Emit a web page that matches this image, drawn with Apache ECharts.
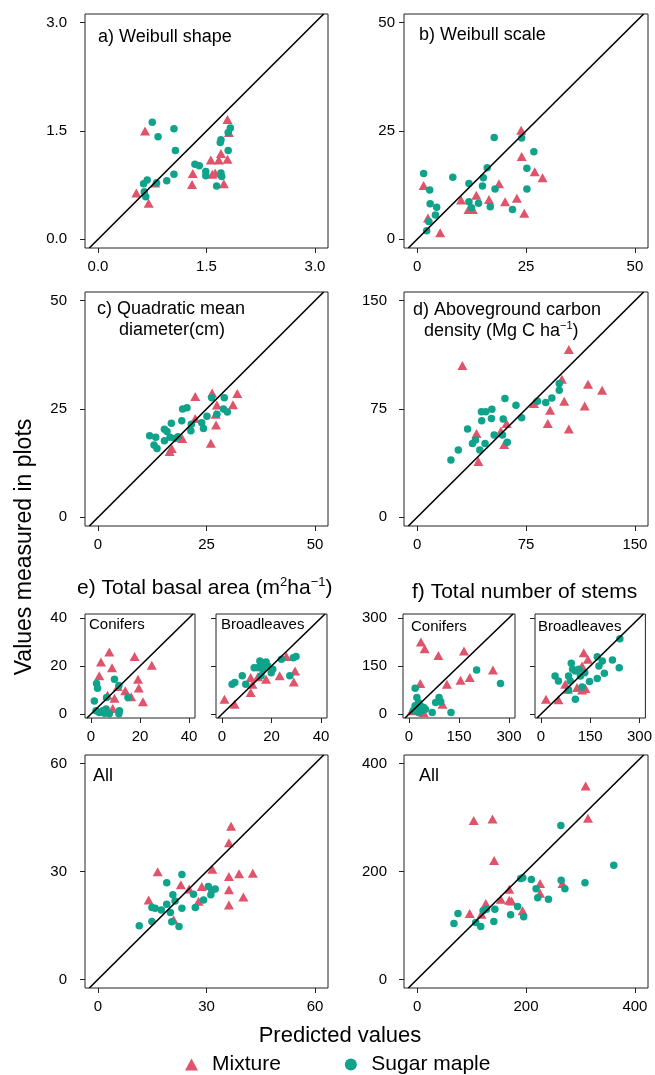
<!DOCTYPE html>
<html>
<head>
<meta charset="utf-8">
<script src="https://cdn.jsdelivr.net/npm/echarts@6/dist/echarts.min.js"></script>
<style>
html, body { margin: 0; padding: 0; background: #fff; }
#main { width: 655px; height: 1075px; }
</style>
</head>
<body>
<div id="main"></div>
<script>
// tick values
var shapeTicks = [0, 1.5, 3];
var scaleTicks = [0, 25, 50];
var qmdTicks = [0, 25, 50];
var carbonTicks = [0, 75, 150];
var baTicks = [0, 20, 40];
var stTicks = [0, 150, 300];
var baAllTicks = [0, 30, 60];
var stAllTicks = [0, 200, 400];

// [predicted, measured]
var shapeMix = [[0.65,1.50],[0.53,0.64],[0.70,0.50],[0.79,0.78],[1.31,0.91],[1.30,0.76],[1.56,1.10],[1.58,0.90],[1.62,0.92],[1.70,1.19],[1.67,1.10],[1.79,1.11],[1.74,0.77],[1.79,1.66],[1.81,1.48]];
var shapeSug = [[0.75,1.62],[1.05,1.53],[0.83,1.42],[1.07,1.23],[0.63,0.77],[0.68,0.82],[0.64,0.66],[0.66,0.59],[0.81,0.78],[0.95,0.81],[1.05,0.90],[1.34,1.04],[1.40,1.02],[1.49,0.94],[1.49,0.88],[1.64,0.74],[1.70,0.92],[1.71,0.87],[1.69,1.34],[1.70,1.38],[1.80,1.23],[1.80,1.48],[1.83,1.54]];

var scaleMix = [[1.5,12.4],[2.5,4.9],[5.3,1.5],[10.1,9.1],[11.8,6.9],[12.8,6.9],[13.6,10.2],[16.5,9.2],[18.8,12.8],[20.2,8.7],[22.9,9.5],[23.9,25.2],[24.0,19.1],[24.6,6.0],[27.0,15.6],[28.8,14.2]];
var scaleSug = [[1.5,15.2],[2.9,11.4],[3.0,8.2],[4.5,7.4],[4.2,5.6],[2.7,4.1],[2.2,2.0],[8.2,14.3],[11.9,12.9],[11.9,8.7],[12.5,7.3],[14.1,8.3],[15.0,12.3],[15.2,14.2],[16.1,16.5],[17.7,23.5],[17.9,11.6],[16.8,7.5],[21.9,6.9],[24.0,23.4],[25.2,16.4],[25.2,11.6],[26.8,20.2]];

var qmdMix = [[16.5,15.2],[17.0,15.9],[19.4,18.2],[22.4,27.9],[22.4,22.8],[26.0,17.1],[26.3,28.7],[27.1,23.8],[27.4,25.9],[27.2,21.3],[31.1,26.0],[32.1,28.6]];
var qmdSug = [[11.9,18.8],[13.3,18.5],[12.9,16.7],[13.6,15.9],[15.3,20.3],[15.9,19.8],[15.3,17.7],[16.6,18.5],[16.9,21.7],[17.8,18.2],[18.4,18.6],[19.3,22.3],[19.5,25.0],[20.5,25.3],[21.4,20.0],[21.5,21.5],[23.9,21.8],[24.3,20.5],[25.1,23.3],[26.2,27.6],[27.4,23.8],[28.9,25.0],[29.1,27.6],[29.8,24.3]];

var carbonMix = [[31.2,105.2],[40.9,58.1],[42.2,38.6],[57.7,59.7],[60.0,50.5],[61.6,65.0],[80.5,78.8],[91.6,74.2],[90.0,65.0],[99.7,95.6],[101.3,80.4],[104.5,116.2],[104.5,61.1],[115.4,77.0],[117.7,92.1],[127.4,88.0]];
var carbonSug = [[23.3,39.7],[28.4,46.6],[34.8,61.1],[38.1,51.2],[40.2,53.5],[43.2,46.6],[44.5,66.8],[44.3,73.1],[47.3,73.1],[46.8,51.2],[51.5,74.9],[51.2,68.5],[53.1,57.0],[58.8,57.0],[59.3,68.0],[60.5,82.2],[62.1,51.9],[68.1,77.6],[72.0,68.9],[82.9,80.4],[88.6,79.5],[92.8,82.7],[97.9,88.0],[97.9,92.6]];

var baConMix = [[7.5,25.8],[4.1,21.7],[8.6,19.3],[17.8,23.9],[24.8,20.3],[3.4,15.9],[19.2,14.5],[19.5,10.9],[14.0,9.7],[16.4,7.2],[9.6,6.6],[21.2,5.2],[6.8,7.9],[8.9,2.3],[11.0,11.5]];
var baConSug = [[9.6,14.5],[2.3,12.7],[2.7,10.8],[11.4,11.9],[15.1,6.9],[6.4,6.9],[1.4,5.5],[2.1,1.4],[3.4,0.7],[4.8,1.4],[6.2,2.1],[5.5,0.4],[11.6,1.4],[11.4,0.2],[7.5,0.2]];

var baBroMix = [[1.0,6.2],[5.1,4.1],[11.6,15.2],[12.3,12.4],[11.6,9.0],[14.5,15.5],[17.8,14.5],[23.3,15.9],[26.0,23.9],[29.5,17.9],[29.0,13.4]];
var baBroSug = [[4.1,12.4],[5.2,13.1],[8.2,15.9],[9.6,12.4],[13.0,19.3],[14.4,19.3],[15.3,22.1],[16.4,21.4],[17.8,21.7],[18.5,20.0],[16.4,18.6],[15.8,15.9],[19.9,17.2],[20.5,18.6],[24.0,22.8],[27.4,15.9],[28.8,23.4],[29.9,23.9]];

var stConMix = [[35.8,224.5],[47.1,203.8],[88.1,183.1],[164.9,196.6],[33.8,95.2],[113.7,93.1],[154.6,105.5],[182.3,113.8],[251.9,137.6],[100.4,31.0],[28.7,23.8],[44.0,5.2],[8.2,10.3]];
var stConSug = [[18.4,80.7],[23.6,51.7],[18.4,25.9],[33.8,25.9],[28.7,36.2],[44.0,20.7],[13.3,10.3],[28.7,5.2],[38.9,10.3],[49.1,15.5],[79.9,36.2],[90.1,51.7],[95.2,38.3],[69.6,5.2],[126.0,5.2],[202.8,137.6],[274.4,95.2]];

var stBroMix = [[15.4,46.6],[53.4,44.5],[73.9,93.1],[82.2,77.6],[130.4,191.4],[142.8,170.7],[125.3,150.0],[109.9,82.8],[125.3,75.5],[135.6,79.7]];
var stBroSug = [[43.1,119],[53.4,103.5],[84.2,119],[89.3,103.5],[92.4,158.3],[96.5,139.7],[104.8,134.5],[115,139.7],[120.2,119],[133.5,129.3],[84.2,75.5],[104.8,46.6],[125.3,84.8],[147.9,101.4],[171.5,110.7],[171.5,179],[176.6,150],[186.9,165.5],[193.1,127.2],[217.7,168.6],[238.3,144.8],[240.3,234.8]];

var baAllMix = [[16.5,29.9],[14.0,22.1],[22.9,26.3],[25.2,25.1],[28.7,25.8],[27.8,21.7],[31.6,30.6],[36.8,42.6],[36.2,38.0],[36.2,28.6],[39.0,29.4],[42.8,29.5],[36.2,24.9],[36.2,20.7],[40.2,22.9],[20.9,16.6]];
var baAllSug = [[11.4,14.9],[14.9,16.1],[14.9,20.0],[15.8,19.8],[17.5,19.3],[19.0,20.9],[19.0,26.9],[20.7,23.5],[21.3,21.8],[20.0,18.6],[20.4,16.0],[22.4,14.7],[23.2,29.2],[23.2,19.8],[26.4,23.7],[26.9,20.0],[29.2,22.1],[30.5,25.8],[31.2,23.5],[31.5,24.8],[32.4,25.1]];

var stAllMix = [[104,294.5],[138.5,297.5],[141.5,220.2],[96.6,122.1],[118.2,120.9],[126.2,140.5],[153.8,148.5],[169.2,166.9],[169.2,146.6],[173.5,145.4],[193.8,127.0],[225.8,177.9],[225.8,159.5],[267,177.9],[309.5,358.3],[313.8,298.8]];
var stAllSug = [[67.7,103.7],[75.1,122.1],[107.7,105.5],[116.9,98.2],[121.2,127.0],[127.4,130.1],[140.9,107.4],[142.8,130.1],[171.7,119.6],[184.6,135.0],[190.2,187.1],[194.2,188.3],[195.7,116.0],[209.8,185.3],[218.5,168.1],[221.5,151.5],[241.2,148.5],[264.0,285.3],[264.6,184.0],[271.4,168.1],[308.3,179.1],[361.2,211.7]];

var FONT = "'Liberation Sans', Arial, sans-serif";
var PINK = '#DF536B';
var TEAL = '#0FA38B';

// box = [left, top, width, height]; ym = y label margin (0 = no labels)
var panels = [
    { box: [85, 14, 243, 234], ticks: shapeTicks, dec: 1, mix: shapeMix, sug: shapeSug, ym: 18, xl: true },
    { box: [404, 14, 244, 234], ticks: scaleTicks, dec: 0, mix: scaleMix, sug: scaleSug, ym: 9, xl: true },
    { box: [85, 292, 243, 234], ticks: qmdTicks, dec: 0, mix: qmdMix, sug: qmdSug, ym: 18, xl: true },
    { box: [404, 292, 244, 234], ticks: carbonTicks, dec: 0, mix: carbonMix, sug: carbonSug, ym: 17, xl: true },
    { box: [85, 614, 110, 104], ticks: baTicks, dec: 0, mix: baConMix, sug: baConSug, ym: 18, xl: true },
    { box: [216, 614, 111, 104], ticks: baTicks, dec: 0, mix: baBroMix, sug: baBroSug, ym: 0, xl: true },
    { box: [403, 614, 112, 104], ticks: stTicks, dec: 0, mix: stConMix, sug: stConSug, ym: 16, xl: true },
    { box: [535, 614, 112, 104], ticks: stTicks, dec: 0, mix: stBroMix, sug: stBroSug, ym: 0, xl: true },
    { box: [85, 755, 243, 233], ticks: baAllTicks, dec: 0, mix: baAllMix, sug: baAllSug, ym: 18, xl: true },
    { box: [404, 755, 244, 233], ticks: stAllTicks, dec: 0, mix: stAllMix, sug: stAllSug, ym: 17, xl: true }
];

var grids = [], xAxes = [], yAxes = [], series = [];

panels.forEach(function (p, i) {
    var R = p.ticks[p.ticks.length - 1];
    var fmt = function (v) { return v.toFixed(p.dec); };
    grids.push({
        left: p.box[0], top: p.box[1], width: p.box[2], height: p.box[3],
        show: true, borderColor: '#222', borderWidth: 1, backgroundColor: 'transparent'
    });
    xAxes.push({
        gridIndex: i, type: 'value', min: -0.06 * R, max: 1.06 * R,
        axisLine: { show: false, onZero: false },
        splitLine: { show: false },
        axisTick: { show: true, customValues: p.ticks, length: 5, lineStyle: { color: '#222' } },
        axisLabel: { show: p.xl, customValues: p.ticks, formatter: fmt, fontSize: 15, color: '#000', fontFamily: FONT, margin: 11 }
    });
    yAxes.push({
        gridIndex: i, type: 'value', min: -0.04 * R, max: 1.04 * R,
        axisLine: { show: false, onZero: false },
        splitLine: { show: false },
        axisTick: { show: true, customValues: p.ticks, length: 5, lineStyle: { color: '#222' } },
        axisLabel: { show: p.ym > 0, customValues: p.ticks, formatter: fmt, fontSize: 15, color: '#000', fontFamily: FONT, margin: p.ym }
    });
    series.push({
        name: 'Mixture', type: 'scatter', xAxisIndex: i, yAxisIndex: i,
        symbol: 'triangle', symbolSize: [10, 9], itemStyle: { color: PINK, opacity: 1 },
        data: p.mix, z: 2
    });
    series.push({
        name: 'Sugar maple', type: 'scatter', xAxisIndex: i, yAxisIndex: i,
        symbol: 'circle', symbolSize: 7.5, itemStyle: { color: TEAL, opacity: 1 },
        data: p.sug, z: 2
    });
    // 1:1 line
    series.push({
        type: 'line', xAxisIndex: i, yAxisIndex: i, silent: true,
        symbol: 'none', lineStyle: { color: '#000', width: 1.6 },
        data: [[-0.04 * R, -0.04 * R], [1.04 * R, 1.04 * R]], z: 3
    });
});

function ttl(text, left, top, size, rich) {
    return {
        text: text, left: left, top: top, padding: 0,
        textStyle: {
            fontFamily: FONT, fontSize: size, fontWeight: 'normal', color: '#000',
            lineHeight: size + 4, rich: rich || {}
        }
    };
}
var supSmall = { sup: { fontSize: 11, verticalAlign: 'top', lineHeight: 10, fontFamily: FONT, color: '#000' } };
var supBig = { sup: { fontSize: 13, verticalAlign: 'top', lineHeight: 12, fontFamily: FONT, color: '#000' } };

var titles = [
    ttl('a) Weibull shape', 98, 26, 18),
    ttl('b) Weibull scale', 419, 24, 18),
    ttl('c) Quadratic mean', 97, 298, 18),
    ttl('diameter(cm)', 119, 319, 18),
    ttl('d) Aboveground carbon', 413, 299, 18),
    ttl('density (Mg C ha{sup|\u22121})', 424, 320, 18, supSmall),
    ttl('e) Total basal area (m{sup|2}ha{sup|\u22121})', 77, 576, 21, supBig),
    ttl('f) Total number of stems', 412, 580, 21),
    ttl('Conifers', 89, 615, 15),
    ttl('Broadleaves', 221, 615, 15),
    ttl('Conifers', 411, 617, 15),
    ttl('Broadleaves', 538, 617, 15),
    ttl('All', 93, 765, 18),
    ttl('All', 419, 765, 18)
];

var chart = echarts.init(document.getElementById('main'), null, { renderer: 'canvas' });
chart.setOption({
    animation: false,
    backgroundColor: '#fff',
    title: titles,
    grid: grids,
    xAxis: xAxes,
    yAxis: yAxes,
    series: series,
    legend: {
        left: 185, top: 1054, padding: 0, itemGap: 64,
        itemWidth: 13, itemHeight: 12,
        textStyle: { fontFamily: FONT, fontSize: 21, color: '#000', padding: [0, 0, 0, 9] },
        data: [{ name: 'Mixture', icon: 'triangle' }, { name: 'Sugar maple', icon: 'circle' }]
    },
    graphic: [
        {
            type: 'text', x: 25, y: 547, rotation: Math.PI / 2,
            style: { text: 'Values measured in plots', font: '23px ' + FONT, fill: '#000', align: 'center', verticalAlign: 'middle' }
        },
        {
            type: 'text', x: 340, y: 1036,
            style: { text: 'Predicted values', font: '22px ' + FONT, fill: '#000', align: 'center', verticalAlign: 'middle' }
        }
    ]
});
</script>
</body>
</html>
